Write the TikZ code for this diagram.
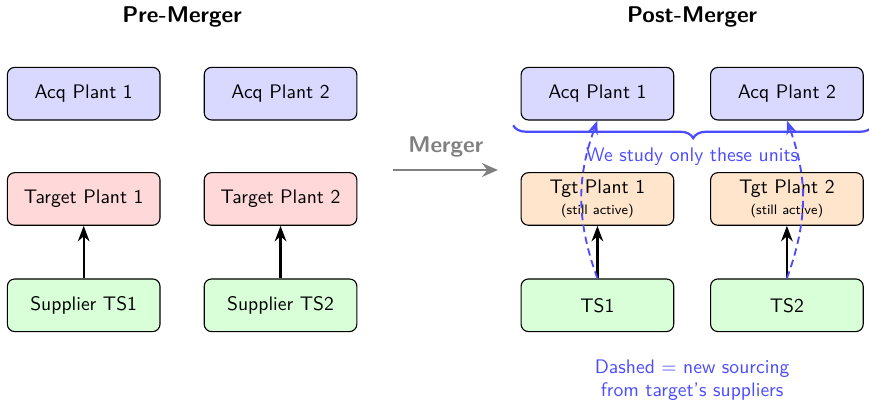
\documentclass[tikz,border=0pt]{standalone}
\usetikzlibrary{arrows.meta,positioning,decorations.pathreplacing}
\renewcommand{\familydefault}{\sfdefault}

\begin{document}
\begin{tikzpicture}
[node distance=1cm, font=\fontsize{10.6}{12.2}\selectfont,
    plant/.style={draw,semithick,rounded corners,minimum width=2.9cm,minimum
    height=1cm,align=center,inner sep=.5mm},
    acq/.style={plant,fill=blue!15},
    tgt/.style={plant,fill=red!15},
    tgtpost/.style={plant,fill=orange!20},
    sup/.style={plant,fill=green!15},
    ttl/.style={font=\fontsize{12.3}{14}\selectfont\bfseries},
    supply/.style={-{Stealth},very thick},
    newsrc/.style={-{Stealth},line width=1pt,dash pattern=on 4pt off 2.5pt,blue!70},
    note/.style={text=blue!70,align=center,inner sep=.5mm}]
\useasboundingbox (0,0) rectangle (16.51,-7.6);
%%%%%%%%%%
%% pre-merger
\node (pre) [ttl] at (3.46,-.32) {Pre-Merger};
\node (acq1) [acq] at (1.59,-1.78) {Acq Plant 1};
\node (acq2) [acq] at (5.33,-1.78) {Acq Plant 2};
\node (tgt1) [tgt] at (1.59,-3.78) {Target Plant 1};
\node (tgt2) [tgt] at (5.33,-3.78) {Target Plant 2};
\node (sup1) [sup] at (1.59,-5.8) {Supplier TS1};
\node (sup2) [sup] at (5.33,-5.8) {Supplier TS2};
\draw[supply] (sup1) -- (tgt1);
\draw[supply] (sup2) -- (tgt2);
%% merger arrow
\node (mlab) [ttl,text=gray] at (8.47,-2.79) {Merger};
\coordinate (mfrom) at (7.47,-3.23);
\coordinate (mto) at (9.46,-3.23);
\draw[-{Stealth[length=3mm,width=2.6mm]},line width=1.6pt,gray] (mfrom) -- (mto);
%% post-merger
\node (post) [ttl] at (13.15,-.32) {Post-Merger};
\node (pacq1) [acq] at (11.35,-1.78) {Acq Plant 1};
\node (pacq2) [acq] at (14.95,-1.78) {Acq Plant 2};
\node (ptgt1) [tgtpost] at (11.35,-3.78) {Tgt Plant 1\\[-1pt]{\fontsize{7.4}{8.5}\selectfont (still active)}};
\node (ptgt2) [tgtpost] at (14.95,-3.78) {Tgt Plant 2\\[-1pt]{\fontsize{7.4}{8.5}\selectfont (still active)}};
\node (ts1) [sup] at (11.35,-5.8) {TS1};
\node (ts2) [sup] at (14.95,-5.8) {TS2};
\draw[supply] (ts1) -- (ptgt1);
\draw[supply] (ts2) -- (ptgt2);
\draw[newsrc] (ts1.north) to[bend left=20] (pacq1.south);
\draw[newsrc] (ts2.north) to[bend right=20] (pacq2.south);
%% brace over the studied units
\coordinate (bl) at (9.75,-2.38);
\coordinate (br) at (16.59,-2.38);
\draw[decorate,decoration={brace,mirror,amplitude=7pt},blue!70,very thick] (bl) -- (br);
\node (studied) [note] at (13.15,-2.98) {We study only these units};
\node (legend) [note] at (13.15,-7.22) {Dashed = new sourcing\\from target's suppliers};
\end{tikzpicture}
\end{document}
